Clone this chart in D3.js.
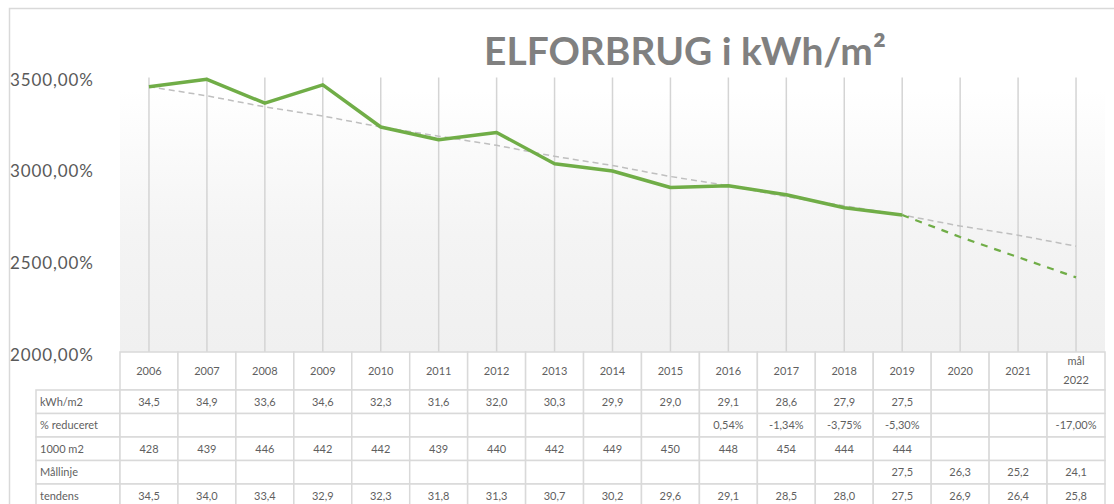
<!DOCTYPE html>
<html>
<head>
<meta charset="utf-8">
<script src="https://cdn.jsdelivr.net/npm/d3@7"></script>
<style>
  html, body { margin: 0; padding: 0; background: #ffffff; }
  svg { display: block; }
</style>
</head>
<body>
<svg id="chart" width="1114" height="504"></svg>
<script>
// ---------------- DATA ----------------
const categories = ["2006","2007","2008","2009","2010","2011","2012","2013","2014","2015","2016","2017","2018","2019","2020","2021","mål 2022"];
const kwh       = [34.5,34.9,33.6,34.6,32.3,31.6,32.0,30.3,29.9,29.0,29.1,28.6,27.9,27.5,null,null,null];
const reduceret = [null,null,null,null,null,null,null,null,null,null,0.54,-1.34,-3.75,-5.30,null,null,-17.00];
const areal     = [428,439,446,442,442,439,440,442,449,450,448,454,444,444,null,null,null];
const maallinje = [null,null,null,null,null,null,null,null,null,null,null,null,null,27.5,26.3,25.2,24.1];
const tendens   = [34.5,34.0,33.4,32.9,32.3,31.8,31.3,30.7,30.2,29.6,29.1,28.5,28.0,27.5,26.9,26.4,25.8];
const rowLabels = ["kWh/m2","% reduceret","1000 m2","Mållinje","tendens"];
const yTicks = [20,25,30,35];
const yTickLabels = ["2000,00%","2500,00%","3000,00%","3500,00%"];
const title = "ELFORBRUG i kWh/m²";

// ---------------- SETUP ----------------
const svg = d3.select("#chart");
const FONT = "Lato, 'Open Sans', sans-serif";
const textColor = "#595959";
const tableText = "#5f5f5f";
const gridColor = "#d4d4d4";

const plotLeft = 120, plotRight = 1105;
const yTop = 77.5, yBottom = 352.5;
const tableTop = 352, headerH = 38, rowH = 23.5, rowHeadLeft = 36;

const x = d3.scaleBand().domain(categories).range([plotLeft, plotRight]);
const bw = x.bandwidth();
const cx = c => x(c) + bw / 2;
const y = d3.scaleLinear().domain([20, 35]).range([yBottom, yTop]);

// outer chart border
svg.append("path")
  .attr("d", "M9.5,520 L9.5,8.5 L1130,8.5")
  .attr("fill", "none").attr("stroke", "#d9d9d9").attr("stroke-width", 1.5);

// plot area gradient
const defs = svg.append("defs");
const grad = defs.append("linearGradient").attr("id", "pg")
  .attr("x1", 0).attr("y1", 0).attr("x2", 0).attr("y2", 1);
grad.append("stop").attr("offset", "0%").attr("stop-color", "#ffffff");
grad.append("stop").attr("offset", "55%").attr("stop-color", "#f4f4f4");
grad.append("stop").attr("offset", "100%").attr("stop-color", "#f0f0f0");
svg.append("rect")
  .attr("x", plotLeft).attr("y", 90)
  .attr("width", plotRight - plotLeft).attr("height", tableTop - 90)
  .attr("fill", "url(#pg)");

// vertical gridlines at category centers
svg.append("g").selectAll("line").data(categories).join("line")
  .attr("x1", d => cx(d)).attr("x2", d => cx(d))
  .attr("y1", y(35)).attr("y2", tableTop)
  .attr("stroke", gridColor).attr("stroke-width", 1.5);

// y axis
const yAxis = svg.append("g").attr("transform", "translate(10,0)")
  .call(d3.axisLeft(y).tickValues(yTicks).tickSize(0)
    .tickFormat(d => yTickLabels[yTicks.indexOf(d)]));
yAxis.select(".domain").remove();
yAxis.selectAll("text")
  .attr("x", 0).attr("dy", "0.45em")
  .attr("text-anchor", "start")
  .attr("fill", textColor)
  .style("font-family", FONT).style("font-size", "17px")
  .style("letter-spacing", "0.9px");

// title
const t = svg.append("text")
  .attr("x", 685).attr("y", 65)
  .attr("text-anchor", "middle")
  .attr("fill", "#808080")
  .style("font-family", FONT).style("font-weight", "bold")
  .style("font-size", "37px")
  .text(title);
{
  const w = t.node().getComputedTextLength();
  const fs = 37 * 402 / w;
  t.style("font-size", Math.min(42, Math.max(30, fs)) + "px");
}

// lines
const idx = d3.range(categories.length);
const lineGen = arr => d3.line()
  .defined(i => arr[i] != null)
  .x(i => cx(categories[i]))
  .y(i => y(arr[i]));

svg.append("path").datum(idx)
  .attr("d", lineGen(tendens))
  .attr("fill", "none").attr("stroke", "#bfbfbf")
  .attr("stroke-width", 1.5).attr("stroke-dasharray", "6,4");

svg.append("path").datum(idx)
  .attr("d", lineGen(maallinje))
  .attr("fill", "none").attr("stroke", "#70ad47")
  .attr("stroke-width", 2.25).attr("stroke-dasharray", "7,7");

svg.append("path").datum(idx)
  .attr("d", lineGen(kwh))
  .attr("fill", "none").attr("stroke", "#70ad47")
  .attr("stroke-width", 3.5).attr("stroke-linejoin", "round");

// ---------------- TABLE ----------------
const fmt1 = v => v == null ? "" : d3.format(".1f")(v).replace(".", ",").replace("−", "-");
const fmtP = v => v == null ? "" : d3.format(".2f")(v).replace(".", ",").replace("−", "-") + "%";
const fmtI = v => v == null ? "" : d3.format("d")(v);
const rows = [
  { label: rowLabels[0], vals: kwh.map(fmt1) },
  { label: rowLabels[1], vals: reduceret.map(fmtP) },
  { label: rowLabels[2], vals: areal.map(fmtI) },
  { label: rowLabels[3], vals: maallinje.map(fmt1) },
  { label: rowLabels[4], vals: tendens.map(fmt1) }
];

const table = svg.append("g");
const cellStroke = "#d9d9d9";
const TFS = "11px";

// header row
categories.forEach(c => {
  table.append("rect")
    .attr("x", x(c)).attr("y", tableTop)
    .attr("width", bw).attr("height", headerH)
    .attr("fill", "#ffffff").attr("stroke", cellStroke).attr("stroke-width", 1.5);
  const parts = c.split(" ");
  const tx = table.append("text")
    .attr("x", cx(c))
    .attr("text-anchor", "middle")
    .attr("fill", tableText)
    .style("font-family", FONT).style("font-size", TFS);
  if (parts.length === 1) {
    tx.attr("y", tableTop + headerH / 2 + 4).text(c);
  } else {
    parts.forEach((p, k) => {
      tx.append("tspan").attr("x", cx(c))
        .attr("y", tableTop + headerH / 2 - 6 + k * 19).text(p);
    });
  }
});

// data rows
rows.forEach((r, ri) => {
  const ry = tableTop + headerH + ri * rowH;
  table.append("rect")
    .attr("x", rowHeadLeft).attr("y", ry)
    .attr("width", plotLeft - rowHeadLeft).attr("height", rowH)
    .attr("fill", "#ffffff").attr("stroke", cellStroke).attr("stroke-width", 1.5);
  table.append("text")
    .attr("x", rowHeadLeft + 4).attr("y", ry + rowH / 2 + 4)
    .attr("fill", tableText)
    .style("font-family", FONT).style("font-size", TFS)
    .text(r.label);
  categories.forEach((c, ci) => {
    table.append("rect")
      .attr("x", x(c)).attr("y", ry)
      .attr("width", bw).attr("height", rowH)
      .attr("fill", "#ffffff").attr("stroke", cellStroke).attr("stroke-width", 1.5);
    if (r.vals[ci] !== "") {
      table.append("text")
        .attr("x", cx(c)).attr("y", ry + rowH / 2 + 4)
        .attr("text-anchor", "middle")
        .attr("fill", tableText)
        .style("font-family", FONT).style("font-size", TFS)
        .text(r.vals[ci]);
    }
  });
});
</script>
</body>
</html>
